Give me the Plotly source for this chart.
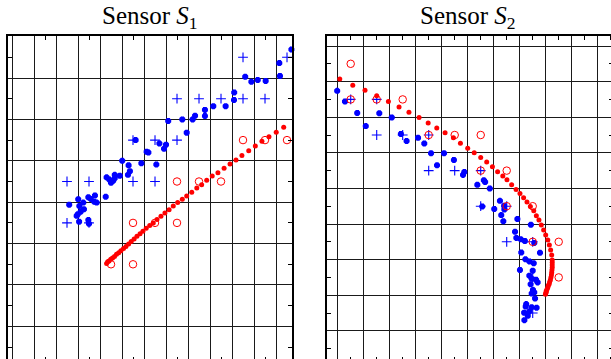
import plotly.graph_objects as go

# ---------------- Sensor S1 ----------------
s1_star_x = [12.70, 12.15, 12.18, 10.60, 10.88, 11.17, 11.53, 10.09, 10.10, 9.71, 9.15, 8.77, 8.77,
             8.32, 8.21, 7.74, 7.10, 7.94, 7.00, 6.91, 6.70, 6.20, 6.12, 6.56, 5.88, 5.01, 5.30,
             5.36, 5.27, 4.90, 4.67, 4.67, 4.30, 4.42, 4.50, 4.60, 5.62,
             2.60, 3.01, 3.24, 3.06, 3.47, 3.58, 3.77, 3.85, 3.74, 4.26, 3.27, 3.12, 2.99,
             2.94, 3.05, 3.47, 3.50]
s1_star_y = [7.69, 7.36, 7.05, 7.03, 6.91, 6.95, 6.93, 6.47, 6.65, 6.32, 6.32, 6.23, 6.08,
             6.09, 6.00, 6.00, 5.96, 5.68, 5.39, 5.29, 5.42, 5.20, 5.22, 4.91, 4.94, 5.00, 4.89,
             4.75, 4.66, 4.64, 4.66, 4.58, 4.60, 4.55, 4.47, 4.52, 5.50,
             3.94, 4.07, 3.99, 3.91, 4.12, 4.08, 4.16, 3.99, 4.01, 4.13, 3.83, 3.77, 3.71,
             3.67, 3.53, 3.57, 3.48]

s1_plus_x = [10.5, 12.5, 7.5, 8.5, 9.5, 10.5, 11.5, 5.5, 6.5, 7.5, 2.5, 3.5, 5.5, 6.5, 2.5, 3.5]
s1_plus_y = [7.5, 7.5, 6.5, 6.5, 6.5, 6.5, 6.5, 5.5, 5.5, 5.5, 4.5, 4.5, 4.5, 4.5, 3.5, 3.5]

s1_fit_x = [4.30, 4.35, 4.41, 4.49, 4.57, 4.66, 4.75, 4.85, 4.95, 5.07, 5.18, 5.30, 5.42,
            5.55, 5.68, 5.82, 5.95, 6.10, 6.26, 6.42, 6.59, 6.77, 6.95, 7.14, 7.33, 7.53,
            7.74, 7.94, 8.17, 8.40, 8.62, 8.85, 9.10, 9.36, 9.64, 9.91, 10.18, 10.45, 10.76,
            11.06, 11.36, 11.68, 12.01, 12.35, 12.74]
s1_fit_y = [2.52, 2.56, 2.58, 2.62, 2.65, 2.69, 2.74, 2.78, 2.83, 2.88, 2.93, 2.99, 3.05,
            3.11, 3.18, 3.24, 3.30, 3.37, 3.44, 3.50, 3.58, 3.66, 3.74, 3.82, 3.91, 3.99,
            4.07, 4.15, 4.24, 4.34, 4.42, 4.53, 4.63, 4.71, 4.82, 4.92, 5.02, 5.13, 5.24,
            5.36, 5.47, 5.58, 5.69, 5.81, 5.94]

s1_circ_x = [10.5, 11.5, 12.5, 7.5, 8.5, 9.5, 5.5, 6.5, 7.5, 4.5, 5.5]
s1_circ_y = [5.5, 5.5, 5.5, 4.5, 4.5, 4.5, 3.5, 3.5, 3.5, 2.5, 2.5]

# ---------------- Sensor S2 ----------------
s2_star_x = [-0.02, 0.28, 0.75, 1.60, 1.08, 2.08, 2.43, 2.65, 3.09, 3.33, 3.59, 4.09, 4.47,
             3.82, 4.87, 4.82, 5.62, 5.37, 5.67, 5.85, 5.56, 6.24, 6.40, 6.41, 6.02, 6.29,
             6.37, 6.91, 7.43, 6.82, 6.87, 7.04, 7.20, 7.56, 7.06, 7.78, 7.22, 7.37, 7.54,
             7.01, 7.50, 7.37, 7.46, 7.63, 7.69, 7.42, 7.51, 7.46, 7.59, 7.56, 7.25, 7.23,
             7.46, 7.65, 7.17, 7.31, 7.18, 7.37]
s2_star_y = [7.74, 7.44, 7.12, 7.11, 6.75, 6.99, 6.53, 6.33, 6.42, 6.26, 5.99, 5.99, 5.80,
             5.65, 5.46, 5.38, 5.23, 5.10, 5.18, 5.00, 4.49, 4.65, 4.51, 4.41, 4.42, 4.25,
             4.08, 4.14, 3.98, 3.78, 3.61, 3.57, 3.52, 3.47, 3.20, 3.19, 3.01, 2.95, 2.90,
             2.71, 2.69, 2.55, 2.46, 2.43, 2.36, 2.31, 2.15, 2.05, 1.91, 2.08, 1.75, 1.68,
             1.66, 1.65, 1.51, 1.42, 1.30, 1.54]

s2_plus_x = [0.5, 1.5, 1.5, 2.5, 3.5, 3.5, 4.5, 5.5, 5.5, 6.5, 6.5, 7.5, 7.5, 7.5]
s2_plus_y = [7.5, 7.5, 6.5, 6.5, 6.5, 5.5, 5.5, 5.5, 4.5, 4.5, 3.5, 3.5, 2.5, 1.5]

s2_fit_x = [0.08, 0.58, 1.05, 1.50, 1.95, 2.36, 2.74, 3.13, 3.48, 3.81, 4.13, 4.45, 4.72,
            5.00, 5.25, 5.50, 5.73, 5.95, 6.15, 6.35, 6.51, 6.69, 6.86, 7.01, 7.15, 7.28,
            7.41, 7.54, 7.64, 7.74, 7.83, 7.92, 8.00, 8.08, 8.14, 8.19, 8.23, 8.25, 8.25,
            8.25, 8.25, 8.24, 8.23, 8.22, 8.20, 8.18, 8.15, 8.13, 8.10, 8.08, 8.05, 8.02,
            8.02, 8.00, 7.99]
s2_fit_y = [8.07, 7.90, 7.76, 7.60, 7.44, 7.29, 7.14, 6.99, 6.84, 6.70, 6.56, 6.42, 6.27,
            6.13, 6.00, 5.87, 5.74, 5.61, 5.47, 5.35, 5.24, 5.10, 4.97, 4.86, 4.74, 4.62,
            4.49, 4.37, 4.23, 4.11, 3.97, 3.83, 3.69, 3.55, 3.41, 3.27, 3.13, 2.99, 2.92,
            2.85, 2.78, 2.71, 2.64, 2.57, 2.50, 2.43, 2.37, 2.31, 2.27, 2.22, 2.17, 2.12,
            2.09, 2.05, 2.03]

s2_circ_x = [0.5, 0.5, 1.5, 2.5, 3.5, 4.5, 5.5, 5.5, 6.5, 6.5, 7.5, 7.5, 8.5, 8.5]
s2_circ_y = [8.5, 7.5, 7.5, 7.5, 6.5, 6.5, 6.5, 5.5, 5.5, 4.5, 4.5, 3.5, 3.5, 2.5]

titles = ["Sensor <i>S</i><sub>1</sub>", "Sensor <i>S</i><sub>2</sub>"]

BLUE = "#0000ff"
RED = "#ff0000"
W, H = 616, 362

fig = go.Figure()


def add_sensor(sfx, star_x, star_y, plus_x, plus_y, fit_x, fit_y, circ_x, circ_y):
    common = dict(xaxis="x" + sfx, yaxis="y" + sfx, showlegend=False, cliponaxis=False,
                  hoverinfo="skip")
    fig.add_trace(go.Scatter(x=star_x, y=star_y, mode="markers",
                             marker=dict(symbol="asterisk-open", size=5, color=BLUE,
                                         line=dict(color=BLUE, width=2.4)), **common))
    fig.add_trace(go.Scatter(x=plus_x, y=plus_y, mode="markers",
                             marker=dict(symbol="cross-thin-open", size=7, color=BLUE,
                                         line=dict(color=BLUE, width=1.1)), **common))
    fig.add_trace(go.Scatter(x=fit_x, y=fit_y, mode="markers",
                             marker=dict(symbol="circle", size=5, color=RED,
                                         line=dict(width=0)), **common))
    fig.add_trace(go.Scatter(x=circ_x, y=circ_y, mode="markers",
                             marker=dict(symbol="circle-open", size=7.5, color=RED,
                                         line=dict(color=RED, width=1)), **common))


add_sensor("", s1_star_x, s1_star_y, s1_plus_x, s1_plus_y, s1_fit_x, s1_fit_y,
           s1_circ_x, s1_circ_y)
add_sensor("2", s2_star_x, s2_star_y, s2_plus_x, s2_plus_y, s2_fit_x, s2_fit_y,
           s2_circ_x, s2_circ_y)


def axis(domain, rng, tick0, dtick):
    return dict(
        domain=domain, range=rng, showticklabels=False, zeroline=False,
        showline=True, linecolor="black", linewidth=2, mirror="ticks",
        ticks="inside", ticklen=4, tickwidth=1, tickcolor="black",
        tick0=tick0, dtick=dtick, showgrid=False,
        minor=dict(tick0=0, dtick=1, showgrid=True, gridcolor="#1a1a1a",
                   gridwidth=1, ticks=""),
    )


top_px, bot_px = 36, 361
fig.update_layout(
    width=W, height=H,
    margin=dict(l=0, r=0, t=top_px, b=H - bot_px, pad=0),
    paper_bgcolor="white", plot_bgcolor="white",
    xaxis=axis([8 / W, 292 / W], [-0.182, 12.727], 1.5, 2),
    yaxis=axis([0, 1], [0.164, 8.0145], 0.5, 1),
    xaxis2=dict(axis([326.7 / W, 613 / W], [-0.423, 10.588], 0.5, 1), anchor="y2"),
    yaxis2=dict(axis([0, 1], [0.152, 9.281], 0.5, 1), anchor="x2"),
)
fig.update_layout(xaxis=dict(anchor="y"), yaxis=dict(anchor="x"))

for title, cx in zip(titles, [150 / W, 468 / W]):
    fig.add_annotation(text=title, xref="paper", yref="paper", x=cx, y=1,
                       xanchor="center", yanchor="bottom", yshift=1, showarrow=False,
                       font=dict(family="Liberation Serif", size=25, color="black"))

fig.write_html("out.html")
